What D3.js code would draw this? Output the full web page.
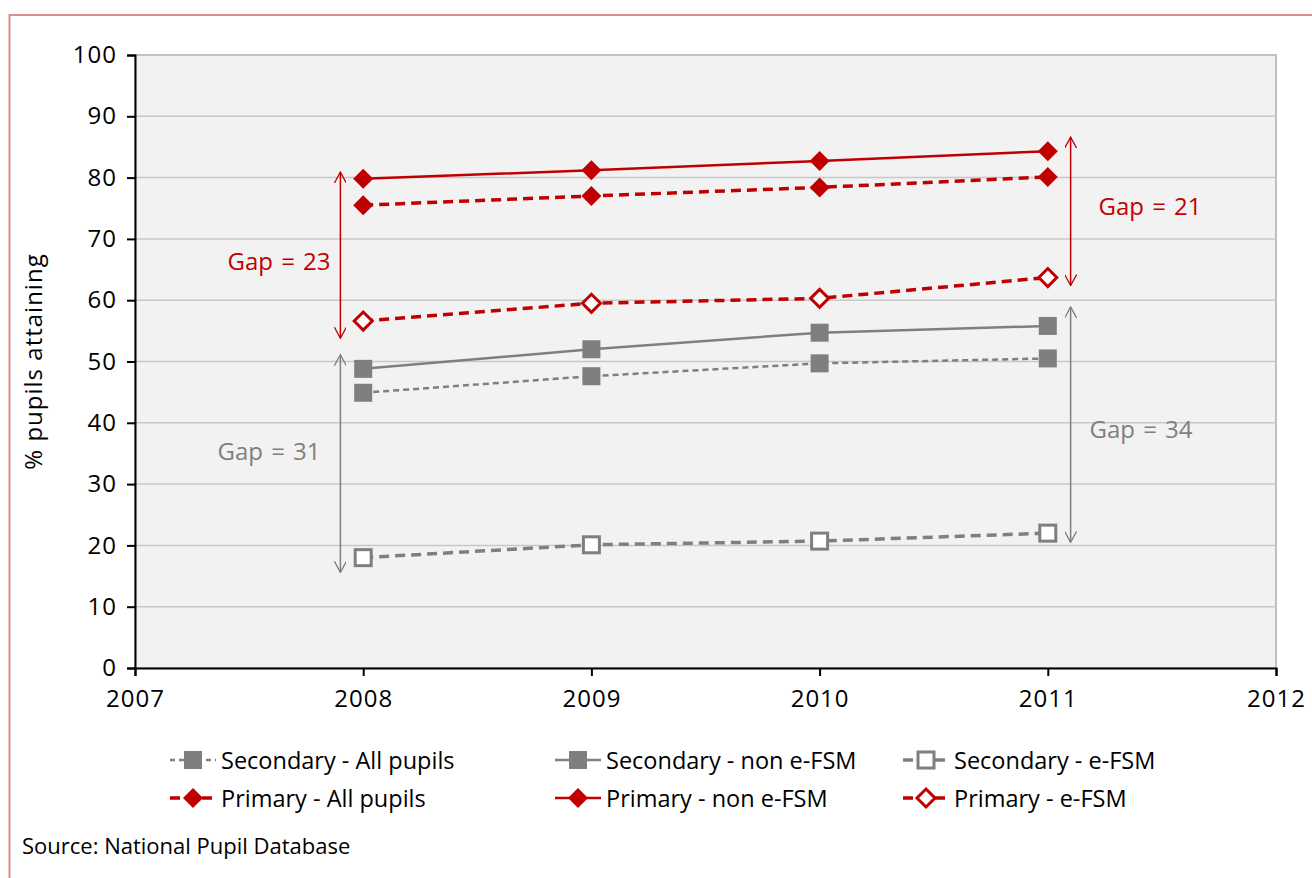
<!DOCTYPE html>
<html>
<head>
<meta charset="utf-8">
<script src="https://cdn.jsdelivr.net/npm/d3@7"></script>
<style>
  html, body { margin: 0; padding: 0; background: #fff; }
  svg { display: block; font-family: "Open Sans", "Noto Sans", sans-serif; }
</style>
</head>
<body>
<svg id="chart" width="1312" height="878"></svg>
<script>
// Attainment by school phase and free-school-meal eligibility
const years = [2008, 2009, 2010, 2011];
const xTicks = [2007, 2008, 2009, 2010, 2011, 2012];
const yTicks = [0, 10, 20, 30, 40, 50, 60, 70, 80, 90, 100];

const secondaryAll    = [44.9, 47.6, 49.7, 50.5];
const secondaryNonFsm = [48.8, 52.0, 54.7, 55.8];
const secondaryFsm    = [18.0, 20.1, 20.7, 22.0];
const primaryAll      = [75.5, 77.0, 78.4, 80.1];
const primaryNonFsm   = [79.8, 81.2, 82.7, 84.3];
const primaryFsm      = [56.6, 59.5, 60.3, 63.7];

const seriesNames = [
  "Secondary - All pupils", "Secondary - non e-FSM", "Secondary - e-FSM",
  "Primary - All pupils", "Primary - non e-FSM", "Primary - e-FSM"
];

// Gap annotations: year offset, top value, bottom value, label
const gapYears  = [2007.9, 2011.1, 2007.9, 2011.1];
const gapTop    = [80.9, 86.6, 51.1, 58.9];
const gapBottom = [53.8, 62.4, 15.6, 20.5];
const gapLabels = ["Gap = 23", "Gap = 21", "Gap = 31", "Gap = 34"];

const RED = "#c00000";
const GREY = "#7f7f7f";

const svg = d3.select("#chart");

const x = d3.scaleLinear().domain([2007, 2012]).range([135, 1276]);
const y = d3.scaleLinear().domain([0, 100]).range([668, 55]);

// outer frame
svg.append("rect")
  .attr("x", 9.5).attr("y", 15).attr("width", 1320).attr("height", 900)
  .attr("fill", "none").attr("stroke", "#e08a8a").attr("stroke-width", 2);

// plot background
svg.append("rect")
  .attr("x", x(2007)).attr("y", y(100))
  .attr("width", x(2012) - x(2007)).attr("height", y(0) - y(100))
  .attr("fill", "#f2f2f2").attr("stroke", "#c0c0c0").attr("stroke-width", 2);

// gridlines
svg.append("g")
  .selectAll("line")
  .data(yTicks.filter(d => d > 0 && d < 100))
  .join("line")
  .attr("x1", x(2007)).attr("x2", x(2012))
  .attr("y1", d => y(d)).attr("y2", d => y(d))
  .attr("stroke", "#c8c8c8").attr("stroke-width", 1.5);

// axes
const yAxis = d3.axisLeft(y).tickValues(yTicks).tickSize(8).tickPadding(10);
const xAxis = d3.axisBottom(x).tickValues(xTicks).tickFormat(d3.format("d")).tickSize(8).tickPadding(14);

const gy = svg.append("g").attr("transform", `translate(${x(2007)},0)`).call(yAxis);
const gx = svg.append("g").attr("transform", `translate(0,${y(0)})`).call(xAxis);
[gy, gx].forEach(g => {
  g.select(".domain").attr("stroke", "#000").attr("stroke-width", 2);
  g.selectAll(".tick line").attr("stroke", "#000").attr("stroke-width", 2);
  g.selectAll(".tick text").attr("fill", "#000").attr("font-size", 24)
    .attr("letter-spacing", 1)
    .attr("font-family", "'Open Sans', sans-serif");
});

// y axis title
svg.append("text")
  .attr("transform", `translate(42,${(y(0) + y(100)) / 2}) rotate(-90)`)
  .attr("text-anchor", "middle")
  .attr("font-size", 24).attr("letter-spacing", 1).attr("fill", "#000")
  .text("% pupils attaining");

// arrow markers
const defs = svg.append("defs");
[["red", RED], ["grey", GREY]].forEach(([id, col]) => {
  defs.append("marker")
    .attr("id", "arrow-" + id)
    .attr("viewBox", "0 -6 12 12").attr("refX", 11).attr("refY", 0)
    .attr("markerWidth", 12).attr("markerHeight", 12)
    .attr("markerUnits", "userSpaceOnUse")
    .attr("orient", "auto-start-reverse")
    .append("path").attr("d", "M0,-6L11,0L0,6")
    .attr("fill", "none").attr("stroke", col).attr("stroke-width", 1.3);
});

// gap arrows and labels
const gapColors = [RED, RED, GREY, GREY];
const gapLabelPos = [[279, 260], [1150, 205], [269, 450], [1141, 428]];
gapYears.forEach((yr, i) => {
  svg.append("line")
    .attr("x1", x(yr)).attr("x2", x(yr))
    .attr("y1", y(gapTop[i])).attr("y2", y(gapBottom[i]))
    .attr("stroke", gapColors[i]).attr("stroke-width", 1.5)
    .attr("marker-start", `url(#arrow-${i < 2 ? "red" : "grey"})`)
    .attr("marker-end", `url(#arrow-${i < 2 ? "red" : "grey"})`);
  svg.append("text")
    .attr("x", gapLabelPos[i][0]).attr("y", gapLabelPos[i][1])
    .attr("text-anchor", "middle").attr("dominant-baseline", "central")
    .attr("font-size", 24).attr("word-spacing", 2).attr("fill", gapColors[i])
    .text(gapLabels[i]);
});

// series definitions
const series = [
  { name: seriesNames[0], values: secondaryAll,    color: GREY, dash: "6,4",   width: 2.5, marker: "square", fill: GREY },
  { name: seriesNames[1], values: secondaryNonFsm, color: GREY, dash: null,    width: 2.5, marker: "square", fill: GREY },
  { name: seriesNames[2], values: secondaryFsm,    color: GREY, dash: "10,6",  width: 3.5, marker: "square", fill: "#fff" },
  { name: seriesNames[3], values: primaryAll,      color: RED,  dash: "10,6",  width: 3.5, marker: "diamond", fill: RED },
  { name: seriesNames[4], values: primaryNonFsm,   color: RED,  dash: null,    width: 2.5, marker: "diamond", fill: RED },
  { name: seriesNames[5], values: primaryFsm,      color: RED,  dash: "10,6",  width: 3.5, marker: "diamond", fill: "#fff" }
];

const line = d3.line().x((d, i) => x(years[i])).y(d => y(d));

function drawMarker(g, s, cx, cy) {
  if (s.marker === "square") {
    const sz = s.fill === "#fff" ? 16 : 18;
    g.append("rect")
      .attr("x", cx - sz / 2).attr("y", cy - sz / 2)
      .attr("width", sz).attr("height", sz)
      .attr("fill", s.fill)
      .attr("stroke", s.fill === "#fff" ? GREY : "none")
      .attr("stroke-width", 3);
  } else {
    const r = s.fill === "#fff" ? 9 : 10;
    g.append("path")
      .attr("d", `M${cx},${cy - r}L${cx + r},${cy}L${cx},${cy + r}L${cx - r},${cy}Z`)
      .attr("fill", s.fill)
      .attr("stroke", s.fill === "#fff" ? RED : "none")
      .attr("stroke-width", 3);
  }
}

series.forEach(s => {
  const g = svg.append("g");
  g.append("path")
    .datum(s.values)
    .attr("d", line)
    .attr("fill", "none")
    .attr("stroke", s.color)
    .attr("stroke-width", s.width)
    .attr("stroke-dasharray", s.dash);
  s.values.forEach((v, i) => drawMarker(g, s, x(years[i]), y(v)));
});

// legend
const legendCols = [170, 555, 903];
const legendRows = [760, 798];
series.forEach((s, i) => {
  const col = i % 3, row = Math.floor(i / 3);
  const lx = legendCols[col], ly = legendRows[row];
  const g = svg.append("g");
  g.append("line")
    .attr("x1", lx).attr("x2", lx + 46)
    .attr("y1", ly).attr("y2", ly)
    .attr("stroke", s.color).attr("stroke-width", s.width)
    .attr("stroke-dasharray", s.dash ? (s.width < 3 ? "5,4" : "10,6") : null);
  drawMarker(g, s, lx + 23, ly);
  g.append("text")
    .attr("x", lx + 51).attr("y", ly)
    .attr("dominant-baseline", "central")
    .attr("font-size", 23.5).attr("fill", "#000")
    .text(s.name);
});

// source note
svg.append("text")
  .attr("x", 22).attr("y", 845)
  .attr("dominant-baseline", "central")
  .attr("font-size", 22).attr("fill", "#000")
  .text("Source: National Pupil Database");
</script>
</body>
</html>
